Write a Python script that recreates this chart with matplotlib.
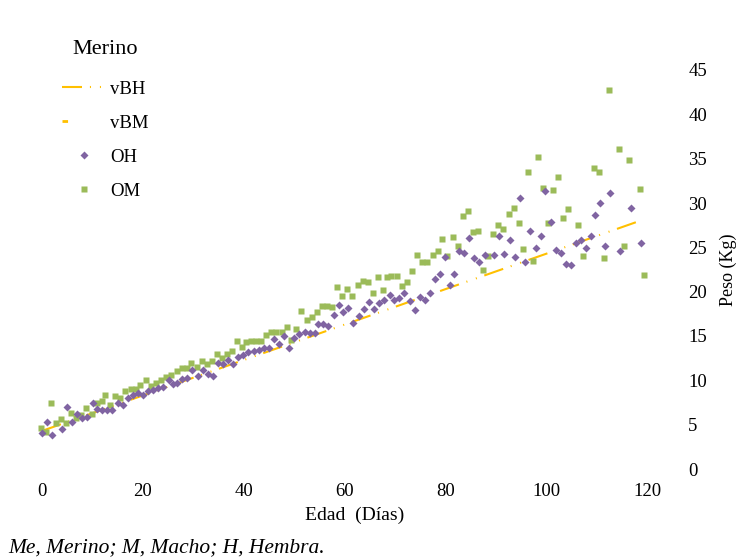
import matplotlib
matplotlib.use("Agg")
import matplotlib.pyplot as plt
from matplotlib.lines import Line2D

plt.rcParams['font.family'] = ['Liberation Serif', 'DejaVu Serif']

# Merino lambs: weight (kg) by age (days)
oh_dias = [0.0, 0.9, 1.9, 3.9, 5.0, 5.9, 6.9, 7.9, 8.9, 10.0, 10.9, 11.9, 12.9, 13.9,
           15.0, 16.0, 17.0, 18.0, 19.0, 20.0, 21.0, 22.0, 23.0, 24.0, 25.1, 26.0, 26.8,
           27.8, 28.8, 29.8, 30.8, 31.8, 32.8, 33.8, 34.8, 35.9, 36.9, 37.9, 38.9, 39.9,
           40.9, 41.9, 42.9, 44.0, 45.0, 45.9, 46.9, 48.0, 49.0, 50.0, 51.0, 52.0, 53.0,
           54.1, 54.7, 55.7, 56.7, 57.8, 58.8, 59.7, 60.7, 61.7, 62.7, 63.7, 64.8, 65.8,
           66.8, 67.8, 68.9, 69.8, 70.8, 71.8, 72.9, 73.9, 74.9, 75.8, 76.9, 77.9, 78.9,
           79.9, 80.9, 81.6, 82.6, 83.6, 84.6, 85.6, 86.6, 87.7, 89.6, 90.6, 91.6, 92.7,
           93.7, 94.7, 95.7, 96.7, 97.8, 98.8, 99.7, 100.8, 101.8, 102.8, 103.8, 104.8,
           105.8, 106.8, 107.8, 108.8, 109.5, 110.5, 111.5, 112.5, 114.5, 116.6, 118.6]
oh_peso = [4.1, 5.3, 3.8, 4.5, 7.0, 5.3, 6.2, 5.8, 5.9, 7.5, 6.8, 6.7, 6.7, 6.7,
           7.4, 7.2, 8.0, 8.3, 8.6, 8.4, 8.8, 8.9, 9.1, 9.3, 10.0, 9.6, 9.7,
           10.2, 10.3, 11.2, 10.5, 11.2, 10.7, 10.5, 11.9, 11.8, 12.3, 11.8, 12.6, 12.9,
           13.2, 13.3, 13.4, 13.6, 13.7, 14.7, 14.1, 15.0, 13.7, 14.8, 15.2, 15.5, 15.3,
           15.3, 16.3, 16.4, 16.1, 17.4, 18.5, 17.7, 18.2, 16.5, 17.2, 18.0, 18.8, 18.0,
           18.7, 19.1, 19.6, 19.1, 19.3, 19.9, 19.0, 17.9, 19.4, 19.1, 19.9, 21.4, 22.0,
           23.9, 20.7, 22.0, 24.6, 24.4, 26.0, 23.8, 23.4, 24.1, 24.1, 26.3, 24.3, 25.8,
           23.9, 30.6, 23.3, 26.8, 24.9, 26.3, 31.4, 27.9, 24.7, 24.4, 23.1, 23.0,
           25.5, 25.8, 24.9, 26.3, 28.6, 30.0, 25.2, 31.1, 24.6, 29.4, 25.5]

om_dias = [-0.3, 0.7, 1.7, 2.8, 3.8, 4.8, 5.7, 6.7, 7.8, 8.8, 9.8, 10.8, 11.8, 12.5,
           13.5, 14.5, 15.5, 16.5, 17.6, 18.6, 19.5, 20.5, 21.6, 22.6, 23.6, 24.6, 25.6,
           26.7, 27.7, 28.7, 29.6, 30.7, 31.7, 32.6, 33.6, 34.7, 35.6, 36.7, 37.7, 38.7,
           39.7, 40.4, 41.4, 42.4, 43.4, 44.4, 45.4, 46.4, 47.5, 48.5, 49.4, 50.4, 51.4,
           52.5, 53.5, 54.5, 55.5, 56.5, 57.5, 58.5, 59.5, 60.5, 61.5, 62.5, 63.5, 64.6,
           65.6, 66.6, 67.6, 68.3, 69.2, 70.3, 71.3, 72.3, 73.3, 74.3, 75.3, 76.3, 77.4,
           78.4, 79.3, 80.3, 81.4, 82.4, 83.4, 84.4, 85.4, 86.4, 87.4, 88.4, 89.4, 90.4,
           91.4, 92.5, 93.5, 94.5, 95.2, 96.2, 97.2, 98.2, 99.2, 100.2, 101.2, 102.2,
           103.2, 104.2, 106.2, 107.2, 109.3, 110.3, 111.3, 112.3, 114.3, 115.3, 116.3,
           118.4, 119.3]
om_peso = [4.6, 4.2, 7.4, 5.2, 5.6, 5.2, 6.3, 5.8, 6.1, 6.9, 6.2, 7.5, 7.7, 8.4,
           7.2, 8.2, 8.0, 8.8, 9.0, 9.0, 9.5, 10.0, 9.4, 9.7, 10.0, 10.4, 10.6,
           11.1, 11.4, 11.4, 11.9, 11.5, 12.2, 11.8, 12.2, 13.0, 12.5, 13.0, 13.3, 14.4,
           13.8, 14.3, 14.4, 14.4, 14.4, 15.1, 15.5, 15.5, 15.4, 16.0, 14.6, 15.8, 17.8,
           16.8, 17.1, 17.7, 18.4, 18.4, 18.3, 20.5, 19.5, 20.3, 19.5, 20.8, 21.2, 21.1,
           19.8, 21.6, 20.2, 21.6, 21.8, 21.8, 20.6, 21.1, 22.3, 24.1, 23.3, 23.3, 24.1,
           24.6, 25.9, 24.0, 26.2, 25.1, 28.5, 29.1, 26.7, 26.8, 22.4, 24.0, 26.5, 27.5,
           27.1, 28.8, 29.4, 27.8, 24.8, 33.5, 23.5, 35.2, 31.7, 27.8, 31.5, 32.9,
           28.3, 29.3, 27.5, 24.0, 33.9, 33.5, 23.8, 42.7, 36.1, 25.2, 34.8,
           31.6, 21.9]

# fitted growth line
vb_dias = [0, 118]
vb_peso = [4.3, 27.9]

x_ticks = [0, 20, 40, 60, 80, 100, 120]
y_ticks = [0, 5, 10, 15, 20, 25, 30, 35, 40, 45]

amarillo = '#FFC000'
morado = '#8064A2'
verde = '#9BBB59'
patron = (9.6, 3.8, 0.5, 4.3, 0.5, 3.8)

fig = plt.figure(figsize=(7.4, 5.6), dpi=100)
ax = fig.add_axes([37 / 740, 1 - 469 / 560, 636 / 740, 399 / 560])

ax.plot(vb_dias, vb_peso, color=amarillo, lw=1.5, dashes=patron, zorder=2)
ax.plot(om_dias, om_peso, 's', color=verde, ms=4.4, mec='none', clip_on=False, zorder=3)
ax.plot(oh_dias, oh_peso, 'D', color=morado, ms=4.4, mec='none', clip_on=False, zorder=4)

ax.set_xlim(-1, 125)
ax.set_ylim(0, 45)
ax.set_xticks(x_ticks)
ax.set_yticks(y_ticks)
ax.yaxis.tick_right()
ax.yaxis.set_label_position('right')
ax.tick_params(axis='x', length=0, pad=10, labelsize=13.5)
ax.tick_params(axis='y', length=0, pad=11, labelsize=13.5)
for s in ax.spines.values():
    s.set_visible(False)
ax.set_xlabel('Edad  (Días)', fontsize=14, labelpad=5)
ax.set_ylabel('Peso (Kg)', fontsize=13, labelpad=9, rotation=90)

handles = [
    Line2D([], [], color=amarillo, lw=1.5, dashes=patron),
    Line2D([], [], color=amarillo, lw=2, dashes=(2.0, 60)),
    Line2D([], [], ls='none', marker='D', color=morado, ms=4.4, mec='none'),
    Line2D([], [], ls='none', marker='s', color=verde, ms=4.4, mec='none'),
]
leg = fig.legend(handles, ['vBH', 'vBM', 'OH', 'OM'], title='Merino',
                 loc='upper left', bbox_to_anchor=(62 / 740, 1 - 40 / 560),
                 frameon=False, fontsize=13.5, title_fontsize=16,
                 handlelength=2.35, handletextpad=0.22, labelspacing=0.9,
                 borderpad=0, borderaxespad=0)
leg._legend_box.sep = 15.5

fig.text(8 / 740, 1 - 548 / 560, 'Me, Merino; M, Macho; H, Hembra.',
         fontsize=15.5, style='italic', va='center', ha='left')

fig.savefig('out.png', dpi=100)
